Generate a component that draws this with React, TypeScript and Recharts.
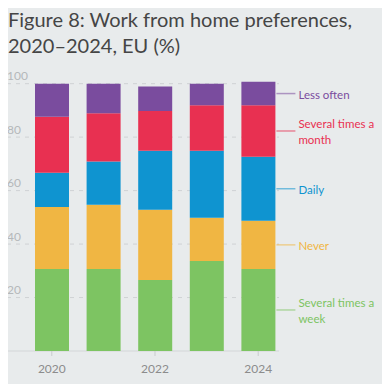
import React from "react";
import { BarChart, Bar, XAxis, YAxis, CartesianGrid, LabelList } from "recharts";

const years = ["2020", "2021", "2022", "2023", "2024"];
const severalWeek = [30.7, 30.7, 26.6, 33.7, 30.7];
const never = [23.2, 24.0, 26.2, 16.1, 18.0];
const daily = [12.8, 16.2, 22.1, 25.1, 24.0];
const severalMonth = [20.9, 18.0, 14.9, 17.0, 19.2];
const lessOften = [12.4, 11.1, 9.1, 8.1, 8.8];
const yTicks = [20, 40, 60, 80, 100];

const series = [
  { key: "week", values: severalWeek, color: "#7dc462", label: ["Several times a", "week"] },
  { key: "never", values: never, color: "#f0b643", label: ["Never"] },
  { key: "daily", values: daily, color: "#0f94d0", label: ["Daily"] },
  { key: "month", values: severalMonth, color: "#e83051", label: ["Several times a", "month"] },
  { key: "less", values: lessOften, color: "#7a4c9e", label: ["Less often"] },
];

const data = years.map((y, i) => {
  const row: any = { year: y };
  series.forEach((s) => (row[s.key] = s.values[i]));
  return row;
});

const FONT = "Lato, 'Open Sans', sans-serif";

const makeLabel = (s: any) => (props: any) => {
  const { x, y, width, height, index } = props;
  if (index !== years.length - 1) return null;
  const xr = Number(x) + Number(width);
  const cy = Number(y) + Number(height) / 2;
  const lines: string[] = s.label;
  const lh = 15.5;
  const start = cy - ((lines.length - 1) * lh) / 2;
  return (
    <g>
      <line x1={xr + 1} x2={xr + 20} y1={cy} y2={cy} stroke={s.color} strokeOpacity={0.55} strokeWidth={1.5} />
      <text x={xr + 23} y={start} fill={s.color} fontSize={11.5} fontFamily={FONT} dominantBaseline="central">
        {lines.map((l, i) => (
          <tspan key={i} x={xr + 23} y={start + i * lh}>
            {l}
          </tspan>
        ))}
      </text>
    </g>
  );
};

const YTick = (props: any) => {
  const { y, payload } = props;
  return (
    <text x={7} y={Number(y) - 8} fill="#b5b8ba" fontSize={12} fontFamily={FONT} textAnchor="start" dominantBaseline="central">
      {payload.value}
    </text>
  );
};

export default function App() {
  return (
    <div style={{ margin: -8, width: 390, height: 392, background: "#e8ebec", position: "relative", overflow: "hidden" }}>
      <div
        style={{
          position: "absolute",
          left: 8,
          top: 6,
          fontFamily: FONT,
          fontSize: 20,
          lineHeight: "26px",
          color: "#454545",
          width: 380,
          whiteSpace: "nowrap",
        }}
      >
        Figure 8: Work from home preferences,
        <br />
        2020–2024, EU (%)
      </div>
      <BarChart width={390} height={392} data={data} margin={{ top: 81, right: 106, bottom: 11, left: 0 }}>
        <CartesianGrid
          x={7}
          width={272}
          vertical={false}
          horizontalValues={yTicks}
          stroke="#cfd2d4"
          strokeDasharray="4 5"
        />
        <CartesianGrid x={7} width={272} vertical={false} horizontalValues={[0]} stroke="#d3d6d8" />
        <XAxis
          dataKey="year"
          interval={1}
          height={30}
          axisLine={false}
          tickLine={{ stroke: "#c8cbcd" }}
          tickSize={5}
          tick={{ fill: "#8c8c8c", fontSize: 12, fontFamily: FONT, dy: 6 }}
        />
        <YAxis width={26} domain={[0, 101]} ticks={yTicks} axisLine={false} tickLine={false} tick={<YTick />} />
        {series.map((s) => (
          <Bar key={s.key} dataKey={s.key} stackId="a" fill={s.color} barSize={34} isAnimationActive={false}>
            <LabelList dataKey={s.key} content={makeLabel(s)} />
          </Bar>
        ))}
      </BarChart>
    </div>
  );
}
